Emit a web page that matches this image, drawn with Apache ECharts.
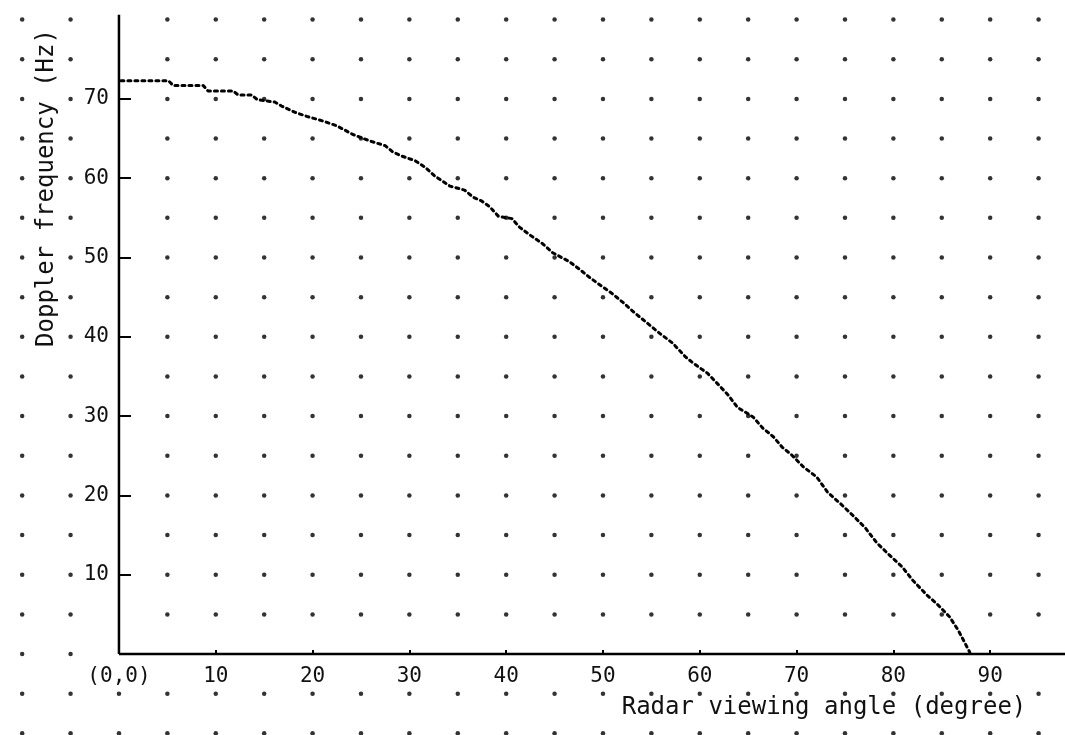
<!DOCTYPE html>
<html>
<head>
<meta charset="utf-8">
<script src="https://cdn.jsdelivr.net/npm/echarts@6/dist/echarts.min.js"></script>
<style>html,body{margin:0;padding:0;background:#fff}#c{width:1065px;height:735px}</style>
</head>
<body>
<div id="c"></div>
<script>
// Curve: radar viewing angle (degree) vs Doppler frequency (Hz)
var angle = [0.2,5.1,5.6,8.7,9.2,11.8,12.3,13.7,14.3,16.1,16.8,18.2,19.4,21.1,22.5,24.2,25.9,27.5,28.3,29.2,30.6,31.6,32.6,34.2,35.7,36.6,37.5,38.3,39.2,40.6,41.4,42.5,43.8,44.8,46.5,47.6,48.5,49.5,50.9,52.1,53.3,54.6,55.9,57.2,58.5,59.3,60.8,61.9,62.9,63.9,65.5,66.5,67.6,68.5,69.5,70.7,72.1,73.2,74.5,75.8,77.1,78.3,79.4,80.9,82.0,83.5,84.6,85.8,86.7,87.9];
var freq = [72.3,72.3,71.7,71.7,71.0,71.0,70.5,70.5,69.9,69.6,69.1,68.3,67.8,67.2,66.6,65.5,64.7,64.1,63.3,62.8,62.2,61.4,60.3,59.0,58.5,57.6,57.1,56.4,55.2,54.9,53.8,52.8,51.7,50.6,49.5,48.5,47.6,46.7,45.5,44.3,43.0,41.7,40.4,39.2,37.5,36.7,35.4,34.0,32.7,31.1,29.9,28.5,27.4,26.1,25.1,23.6,22.3,20.4,19.0,17.5,15.9,14.0,12.7,11.0,9.3,7.4,6.2,4.7,3.0,0.2];
var xTicks = [0,10,20,30,40,50,60,70,80,90];
var yTicks = [10,20,30,40,50,60,70];
// background dot grid (graph paper)
var dotX = [-10,-5,0,5,10,15,20,25,30,35,40,45,50,55,60,65,70,75,80,85,90,95];
var dotY = [-10,-5,0,5,10,15,20,25,30,35,40,45,50,55,60,65,70,75,80];
var axisTopY = 80.6;

var xMin = -12.29, xMax = 97.73, yMin = -10.21, yMax = 82.47;
var W = 1065, H = 735;
// move the axes onto the origin (0,0)
var yAxisOffset = -(0 - xMin) / (xMax - xMin) * W;
var xAxisOffset = -(0 - yMin) / (yMax - yMin) * H;

var curve = angle.map(function (a, i) { return [a, freq[i]]; });
var dots = [];
dotX.forEach(function (x) {
  dotY.forEach(function (y) {
    if ((x === 0 && y >= 0) || (y === 0 && x >= 0)) return;
    dots.push([x, y]);
  });
});

var mono = '"DejaVu Sans Mono", "Liberation Mono", monospace';
var chart = echarts.init(document.getElementById('c'), null, {renderer: 'canvas'});
chart.setOption({
  backgroundColor: '#ffffff',
  animation: false,
  grid: {left: 0, right: 0, top: 0, bottom: 0, containLabel: false, outerBoundsMode: 'none'},
  xAxis: {
    type: 'value', min: xMin, max: xMax, position: 'bottom', offset: xAxisOffset,
    axisLine: {show: false, onZero: false},
    splitLine: {show: false},
    axisTick: {show: true, inside: true, length: 4, customValues: xTicks.slice(1), lineStyle: {color: '#000', width: 2}},
    axisLabel: {
      customValues: xTicks, margin: 12, color: '#111',
      fontFamily: mono, fontSize: 21,
      formatter: function (v) { return v === 0 ? '(0,0)' : String(v); }
    }
  },
  yAxis: {
    type: 'value', min: yMin, max: yMax, position: 'left', offset: yAxisOffset,
    axisLine: {show: false, onZero: false},
    splitLine: {show: false},
    axisTick: {show: true, inside: true, length: 12, customValues: yTicks, lineStyle: {color: '#000', width: 2}},
    axisLabel: {
      customValues: yTicks, margin: 10, color: '#111',
      fontFamily: mono, fontSize: 21, padding: [0, 0, 16, 0]
    }
  },
  graphic: [
    {type: 'text', x: 47, y: 188, rotation: Math.PI / 2,
     style: {text: 'Doppler frequency (Hz)', font: '24px ' + mono, fill: '#111', align: 'center', verticalAlign: 'middle'}},
    {type: 'text', x: 824, y: 708,
     style: {text: 'Radar viewing angle (degree)', font: '24px ' + mono, fill: '#111', align: 'center', verticalAlign: 'middle'}}
  ],
  series: [
    {type: 'scatter', data: dots, symbol: 'circle', symbolSize: 4.5, itemStyle: {color: '#000'}, silent: true, z: 1},
    {type: 'line', data: [[0, 0], [0, axisTopY]], symbol: 'none', silent: true, lineStyle: {color: '#000', width: 2.5}, z: 3},
    {type: 'line', data: [[0, 0], [xMax, 0]], symbol: 'none', silent: true, lineStyle: {color: '#000', width: 2.5}, z: 3},
    {type: 'line', data: curve, symbol: 'none', silent: true,
     lineStyle: {color: '#000', width: 3, type: [3, 4], cap: 'round'}, z: 4}
  ]
});
</script>
</body>
</html>
